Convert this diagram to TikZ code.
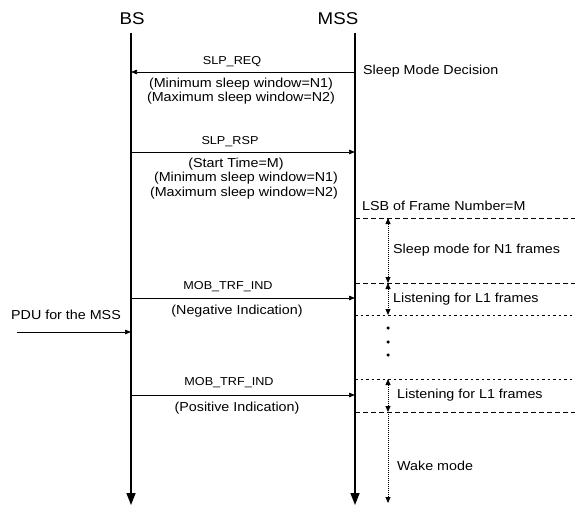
\documentclass[tikz,border=0pt]{standalone}
\usepackage{fontspec}
\setmainfont{Liberation Sans}[FakeStretch=1.1]
\usetikzlibrary{arrows.meta}
\begin{document}
\begin{tikzpicture}[x=1pt,y=-1pt,
  txt/.style={inner sep=0pt,font=\fontsize{13}{15}\selectfont},
  lbl/.style={inner sep=0pt,font=\fontsize{11.5}{13}\selectfont},
  head/.style={inner sep=0pt,font=\fontsize{17}{19}\selectfont},
  life/.style={line width=1.6pt,-{Triangle[width=9pt,length=12pt]}},
  msg/.style={line width=0.7pt,-{Triangle[width=4.5pt,length=6pt]}},
  span/.style={line width=0.8pt,dash pattern=on 1pt off 1pt,{Triangle[width=5pt,length=6pt]}-{Triangle[width=5pt,length=6pt]}},
  spanend/.style={line width=0.8pt,dash pattern=on 1pt off 1pt,-{Triangle[width=5pt,length=6pt]}},
  coarse/.style={line width=0.8pt,dash pattern=on 5pt off 3pt},
  fine/.style={line width=0.6pt,dash pattern=on 2.5pt off 3pt},
  dotmark/.style={circle,fill=black,inner sep=0pt,minimum size=3.5pt}]
\useasboundingbox (0,0) rectangle (575,506);
% headers
\node[head] (bs) at (132,19) {BS};
\node[head] (mss) at (338,19) {MSS};
% lifelines
\coordinate (bsT) at (131,33); \coordinate (bsB) at (131,505);
\coordinate (msT) at (355,33); \coordinate (msB) at (355,505);
\draw[life] (bsT) -- (bsB);
\draw[life] (msT) -- (msB);
% SLP_REQ
\coordinate (reqM) at (355,72); \coordinate (reqB) at (131,72);
\draw[msg] (reqM) -- (reqB);
\node[lbl] (reqL) at (232,62) {SLP\_REQ};
\node[txt,anchor=west] (smd) at (363,71) {Sleep Mode Decision};
\node[txt] (req1) at (241,84) {(Minimum sleep window=N1)};
\node[txt] (req2) at (241,98) {(Maximum sleep window=N2)};
% SLP_RSP
\coordinate (rspB) at (131,152); \coordinate (rspM) at (355,152);
\draw[msg] (rspB) -- (rspM);
\node[lbl] (rspL) at (230,142) {SLP\_RSP};
\node[txt] (rsp0) at (236,164) {(Start Time=M)};
\node[txt] (rsp1) at (246,178) {(Minimum sleep window=N1)};
\node[txt] (rsp2) at (244,193) {(Maximum sleep window=N2)};
% frame timeline on the right
\node[txt,anchor=west] (lsb) at (362,206) {LSB of Frame Number=M};
\coordinate (d1a) at (355,218); \coordinate (d1b) at (575,218);
\coordinate (d2a) at (355,283); \coordinate (d2b) at (575,283);
\coordinate (d3a) at (355,315); \coordinate (d3b) at (575,315);
\coordinate (d4a) at (355,379); \coordinate (d4b) at (575,379);
\coordinate (d5a) at (355,412); \coordinate (d5b) at (575,412);
\draw[coarse] (d1a) -- (d1b);
\draw[coarse] (d2a) -- (d2b);
\draw[fine] (d3a) -- (d3b);
\draw[fine] (d4a) -- (d4b);
\draw[coarse] (d5a) -- (d5b);
\coordinate (s1) at (388,218); \coordinate (s2) at (388,283);
\coordinate (s3) at (388,315); \coordinate (s4) at (388,379);
\coordinate (s5) at (388,412); \coordinate (s6) at (388,503);
\draw[span] (s1) -- (s2);
\draw[span] (s2) -- (s3);
\draw[span] (s4) -- (s5);
\draw[spanend] (s5) -- (s6);
\node[txt,anchor=west] (slm) at (393,250) {Sleep mode for N1 frames};
\node[txt,anchor=west] (lis1) at (393,299) {Listening for L1 frames};
\node[txt,anchor=west] (lis2) at (397,395) {Listening for L1 frames};
\node[txt,anchor=west] (wake) at (397,466) {Wake mode};
\node[dotmark] (dot1) at (388,328) {};
\node[dotmark] (dot2) at (388,342) {};
\node[dotmark] (dot3) at (388,355) {};
% MOB_TRF_IND negative
\coordinate (m1B) at (131,298); \coordinate (m1M) at (355,298);
\draw[msg] (m1B) -- (m1M);
\node[lbl] (m1L) at (228,287) {MOB\_TRF\_IND};
\node[txt] (m1T) at (237,311) {(Negative Indication)};
% PDU
\node[txt] (pdu) at (66,315) {PDU for the MSS};
\coordinate (pduS) at (17,332); \coordinate (pduE) at (131,332);
\draw[msg] (pduS) -- (pduE);
% MOB_TRF_IND positive
\coordinate (m2B) at (131,395); \coordinate (m2M) at (355,395);
\draw[msg] (m2B) -- (m2M);
\node[lbl] (m2L) at (229,383) {MOB\_TRF\_IND};
\node[txt] (m2T) at (237,408) {(Positive Indication)};
\end{tikzpicture}
\end{document}
